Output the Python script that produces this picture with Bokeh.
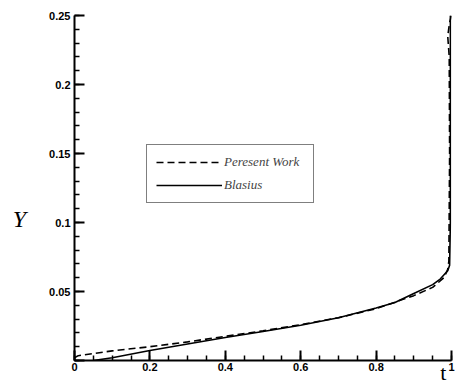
from bokeh.plotting import figure
from bokeh.models import Range1d, Legend, LegendItem, FixedTicker, CustomJSTickFormatter
from bokeh.embed import file_html
from bokeh.resources import INLINE

# Blasius solution (solid)
blasius_u = [0.05, 0.1, 0.2, 0.3, 0.4, 0.5, 0.6, 0.7, 0.8, 0.85, 0.9, 0.95, 0.97, 0.99, 0.995, 0.997, 0.997]
blasius_y = [0.0, 0.002, 0.0073, 0.012, 0.0167, 0.021, 0.0255, 0.031, 0.038, 0.042, 0.0486, 0.055, 0.059, 0.065, 0.069, 0.1, 0.25]

# Present work (dashed)
present_u = [0.0, 0.01, 0.1, 0.2, 0.3, 0.4, 0.5, 0.6, 0.7, 0.8, 0.9, 0.95, 0.98, 0.99, 0.993, 0.995, 0.994, 0.99, 0.995, 1.0]
present_y = [0.002, 0.0035, 0.007, 0.010, 0.0135, 0.0175, 0.0215, 0.026, 0.031, 0.0375, 0.047, 0.053, 0.060, 0.066, 0.072, 0.15, 0.22, 0.235, 0.245, 0.25]

x_ticks = [0, 0.2, 0.4, 0.6, 0.8, 1]
y_ticks = [0, 0.05, 0.1, 0.15, 0.2, 0.25]
y_minor = [round(i * 0.01, 2) for i in range(26)]
x_minor = [round(i * 0.05, 2) for i in range(21)]

p = figure(width=455, height=389, output_backend="svg", toolbar_location=None,
           x_range=Range1d(0, 1), y_range=Range1d(0, 0.25),
           min_border_left=74, min_border_right=4, min_border_top=15, min_border_bottom=29)
p.outline_line_color = None
p.grid.grid_line_color = None
p.background_fill_color = "white"

r1 = p.line(present_u, present_y, line_color="black", line_width=1.6, line_dash="7 4")
r2 = p.line(blasius_u, blasius_y, line_color="black", line_width=1.6)

for ax in (p.xaxis[0], p.yaxis[0]):
    ax.axis_line_width = 2
    ax.axis_line_color = "black"
    ax.major_tick_in = 10
    ax.major_tick_out = 0
    ax.minor_tick_in = 5
    ax.minor_tick_out = 0
    ax.major_tick_line_width = 2
    ax.minor_tick_line_width = 1.5
    ax.major_label_text_font = "Liberation Sans"
    ax.major_label_text_font_style = "bold"
    ax.major_label_text_font_size = "11px"
    ax.major_label_text_color = "black"

p.xaxis.ticker = FixedTicker(ticks=x_ticks, minor_ticks=x_minor)
p.yaxis.ticker = FixedTicker(ticks=y_ticks, minor_ticks=y_minor)
p.xaxis.formatter = CustomJSTickFormatter(code="return tick == 0 ? '0' : (tick == 1 ? '1' : tick.toFixed(1));")
p.yaxis.formatter = CustomJSTickFormatter(code="return tick == 0 ? '' : String(parseFloat(tick.toFixed(2)));")
p.xaxis.major_label_standoff = 2
p.yaxis.major_label_standoff = 4

# x axis label "t"
p.xaxis.axis_label = "t\u00a0\u00a0\u00a0"
p.xaxis.axis_label_text_font = "Liberation Serif"
p.xaxis.axis_label_text_font_style = "normal"
p.xaxis.axis_label_text_font_size = "22px"
p.xaxis.axis_label_text_color = "black"
p.xaxis.axis_label_standoff = -14
p.xaxis.axis_label_align = "end"

# y axis label "Y"
p.yaxis.axis_label = "\n\nY"
p.yaxis.axis_label_orientation = "horizontal"
p.yaxis.axis_label_text_font = "Liberation Serif"
p.yaxis.axis_label_text_font_style = "italic"
p.yaxis.axis_label_text_font_size = "24px"
p.yaxis.axis_label_text_color = "black"
p.yaxis.axis_label_standoff = 20

legend = Legend(items=[LegendItem(label="Peresent Work", renderers=[r1]),
                       LegendItem(label="Blasius", renderers=[r2])],
                location=(72, 157), orientation="vertical")
legend.label_text_font = "Liberation Serif"
legend.label_text_font_style = "italic"
legend.label_text_font_size = "13px"
legend.glyph_width = 66
legend.glyph_height = 16
legend.label_standoff = 2
legend.label_width = 80
legend.padding = 9
legend.spacing = 7
legend.border_line_color = "black"
legend.border_line_width = 1.5
legend.background_fill_alpha = 1
p.add_layout(legend, "center")

open("out.html", "w").write(file_html(p, INLINE))
